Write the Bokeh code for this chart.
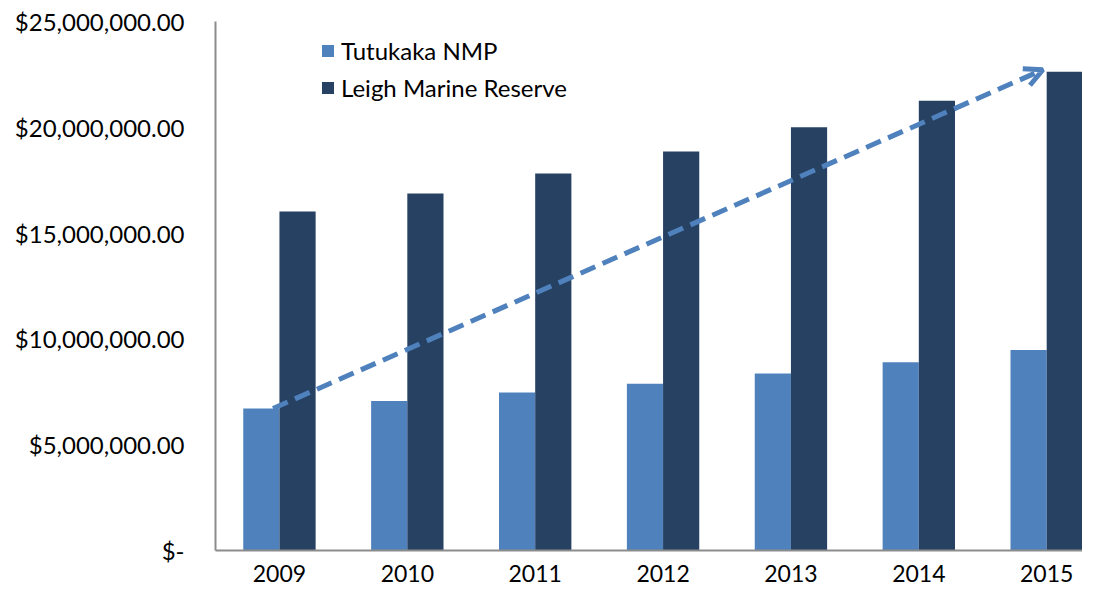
from bokeh.plotting import figure
from bokeh.models import (Range1d, FixedTicker, Legend, LegendItem, Arrow, OpenHead,
                          ColumnDataSource)
from bokeh.transform import dodge
from bokeh.embed import file_html
from bokeh.resources import INLINE

years = ["2009", "2010", "2011", "2012", "2013", "2014", "2015"]
tutukaka = [6.71e6, 7.06e6, 7.47e6, 7.88e6, 8.36e6, 8.90e6, 9.47e6]
leigh = [16.02e6, 16.87e6, 17.82e6, 18.86e6, 20.00e6, 21.25e6, 22.62e6]
y_ticks = [0, 5e6, 10e6, 15e6, 20e6, 25e6]
y_tick_labels = ["$-", "$5,000,000.00", "$10,000,000.00", "$15,000,000.00",
                 "$20,000,000.00", "$25,000,000.00"]

LIGHT = "#4F81BD"
DARK = "#264162"
FONT = "Lato"

idx = list(range(len(years)))
src = ColumnDataSource(dict(x=idx, tut=tutukaka, leigh=leigh))

p = figure(width=1082, height=588, output_backend="svg", toolbar_location=None,
           x_range=Range1d(-0.5, 6.28), y_range=Range1d(0, 25e6),
           min_border_left=215, min_border_right=0, min_border_top=21,
           min_border_bottom=38)
p.outline_line_color = None
p.xgrid.visible = False
p.ygrid.visible = False
p.background_fill_color = "white"

bw = 0.283
r1 = p.vbar(x=dodge("x", -bw / 2), top="tut", width=bw, source=src,
            fill_color=LIGHT, line_color=None)
r2 = p.vbar(x=dodge("x", bw / 2), top="leigh", width=bw, source=src,
            fill_color=DARK, line_color=None)

# trend arrow from first Tutukaka value to last Leigh value
p.add_layout(Arrow(end=OpenHead(size=18, line_color=LIGHT, line_width=5),
                   x_start=idx[0] - 0.05, y_start=tutukaka[0],
                   x_end=idx[-1] - 0.03, y_end=leigh[-1] + 0.1e6,
                   line_color=LIGHT, line_width=5, line_dash="16 8"))

# axes
p.yaxis.ticker = FixedTicker(ticks=y_ticks)
p.yaxis.major_label_overrides = {t: l for t, l in zip(y_ticks, y_tick_labels)}
p.yaxis.major_tick_line_color = None
p.yaxis.minor_tick_line_color = None
p.yaxis.axis_line_color = "#8C8C8C"
p.yaxis.axis_line_width = 2
p.yaxis.major_label_text_font = FONT
p.yaxis.major_label_text_font_size = "24px"
p.yaxis.major_label_text_color = "black"
p.yaxis.major_label_standoff = 25

p.xaxis.ticker = FixedTicker(ticks=idx)
p.xaxis.major_label_overrides = {i: y for i, y in zip(idx, years)}
p.xaxis.major_tick_line_color = None
p.xaxis.minor_tick_line_color = None
p.xaxis.axis_line_color = "#8C8C8C"
p.xaxis.axis_line_width = 2
p.xaxis.major_label_text_font = FONT
p.xaxis.major_label_text_font_size = "23px"
p.xaxis.major_label_text_color = "black"
p.xaxis.major_label_standoff = 8

legend = Legend(items=[LegendItem(label="Tutukaka NMP", renderers=[r1]),
                       LegendItem(label="Leigh Marine Reserve", renderers=[r2])],
                location=(105, 448), orientation="vertical",
                border_line_color=None, background_fill_alpha=0,
                label_text_font=FONT, label_text_font_size="24px",
                label_text_color="black", glyph_width=15, glyph_height=15,
                label_height=30, spacing=7, padding=0, margin=0,
                label_standoff=6)
p.add_layout(legend)

open("out.html", "w").write(file_html(p, INLINE))
